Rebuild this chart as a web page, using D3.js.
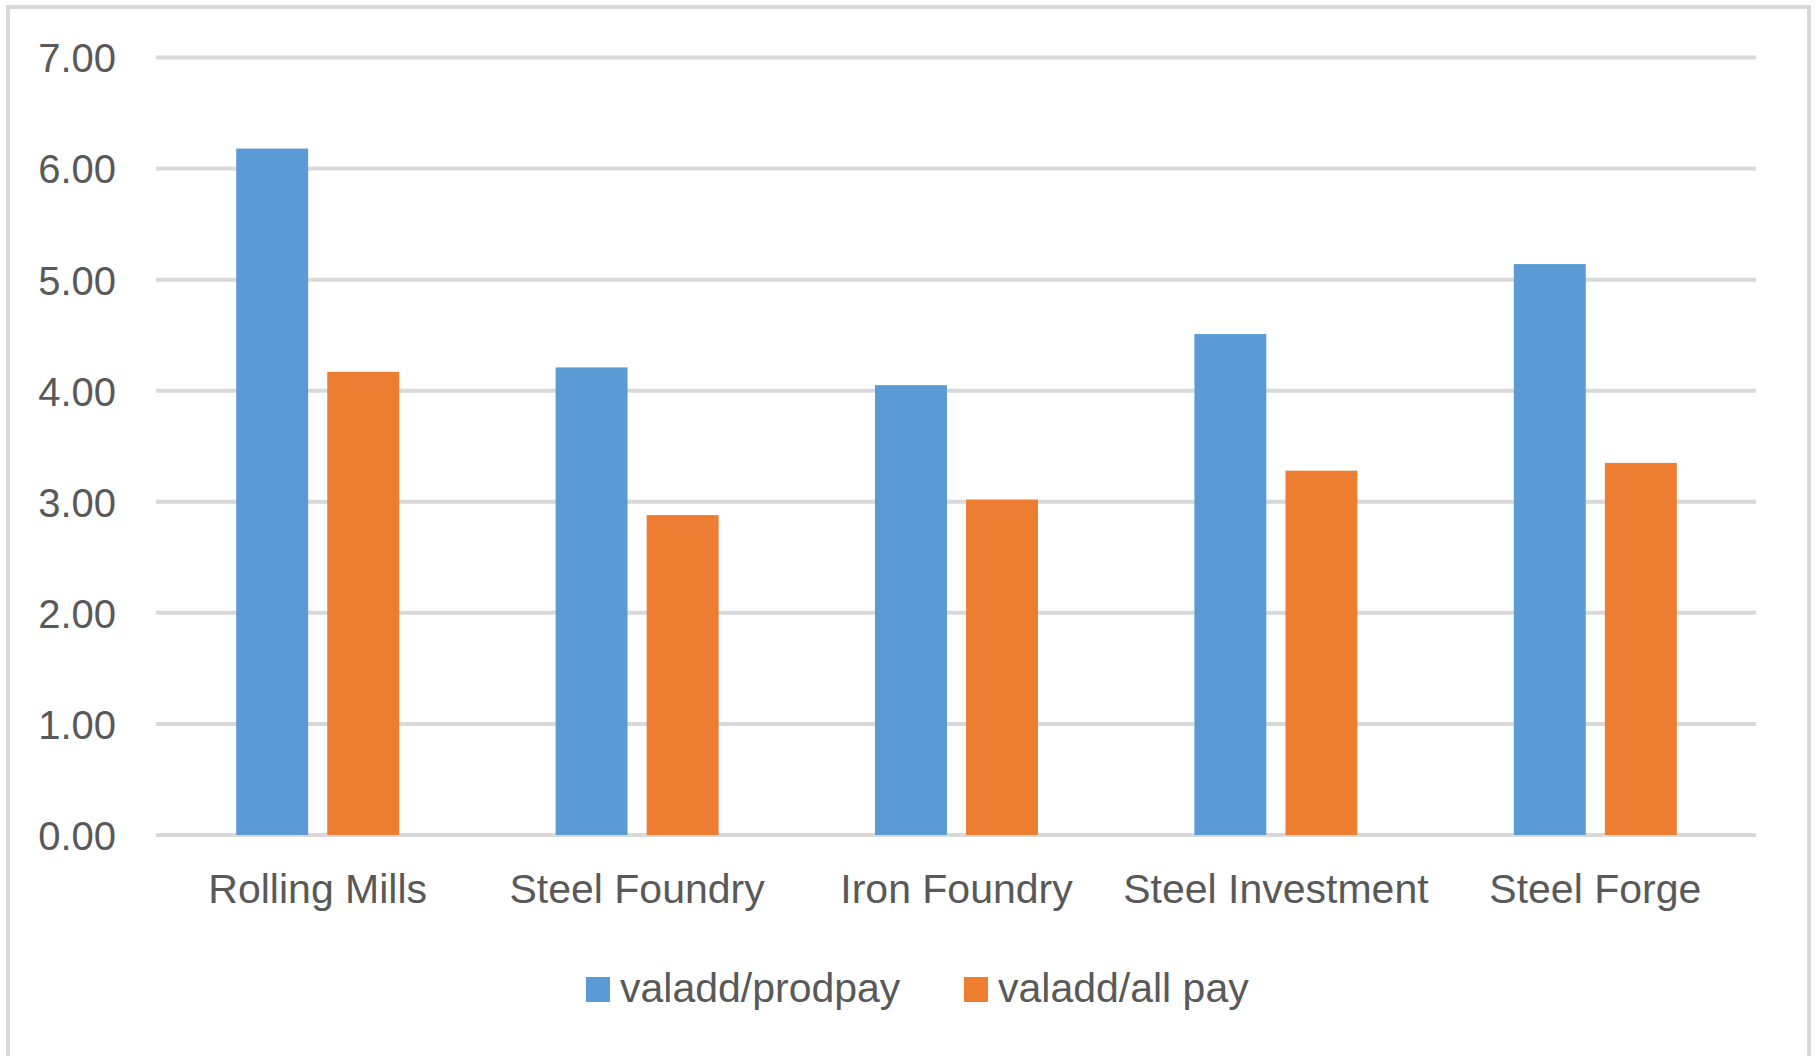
<!DOCTYPE html>
<html>
<head>
<meta charset="utf-8">
<style>
  body { margin: 0; background: #fff; }
  text { font-family: "Liberation Sans", Arial, sans-serif; fill: #595959; }
</style>
<script src="https://cdn.jsdelivr.net/npm/d3@7"></script>
</head>
<body>
<svg id="chart" width="1820" height="1056"></svg>
<script>
// data
var categories = ["Rolling Mills", "Steel Foundry", "Iron Foundry", "Steel Investment", "Steel Forge"];
var seriesNames = ["valadd/prodpay", "valadd/all pay"];
var prodpay = [6.18, 4.21, 4.05, 4.51, 5.14];
var allpay  = [4.17, 2.88, 3.02, 3.28, 3.35];
var yTicks  = [0, 1, 2, 3, 4, 5, 6, 7];
var colors  = ["#5b9bd5", "#ed7d31"];

var svg = d3.select("#chart");

// chart border
svg.append("rect")
  .attr("x", 8).attr("y", 7)
  .attr("width", 1801).attr("height", 1070)
  .attr("fill", "none")
  .attr("stroke", "#d9d9d9")
  .attr("stroke-width", 4);

var plotLeft = 158, plotRight = 1755, plotTop = 57.5, plotBottom = 835;

var y = d3.scaleLinear().domain([0, 7]).range([plotBottom, plotTop]);
var x0 = d3.scaleBand().domain(categories).range([plotLeft, plotRight]).padding(0);
var groupW = 163;
var x1 = d3.scaleBand().domain(seriesNames).range([0, groupW]).paddingInner(0.21).paddingOuter(0);

// gridlines
svg.append("g").selectAll("line")
  .data(yTicks)
  .enter().append("line")
  .attr("x1", 156).attr("x2", 1756)
  .attr("y1", function(d) { return y(d); })
  .attr("y2", function(d) { return y(d); })
  .attr("stroke", "#d9d9d9")
  .attr("stroke-width", 4);

// y axis labels
var yAxis = d3.axisLeft(y).tickValues(yTicks).tickFormat(d3.format(".2f")).tickSize(0).tickPadding(0);
var gy = svg.append("g").attr("transform", "translate(116,0)").call(yAxis);
gy.select(".domain").remove();
gy.selectAll("text")
  .attr("font-size", 40)
  .attr("dy", "0.36em")
  .style("font-family", "Liberation Sans, Arial, sans-serif")
  .attr("fill", "#595959");

// bars
var rows = categories.map(function(c, i) { return { cat: c, vals: [prodpay[i], allpay[i]] }; });
var groups = svg.append("g").selectAll("g")
  .data(rows)
  .enter().append("g")
  .attr("transform", function(d) {
    return "translate(" + (x0(d.cat) + x0.bandwidth() / 2 - groupW / 2) + ",0)";
  });

groups.selectAll("rect")
  .data(function(d) { return d.vals.map(function(v, j) { return { s: seriesNames[j], v: v, j: j }; }); })
  .enter().append("rect")
  .attr("x", function(d) { return x1(d.s); })
  .attr("width", x1.bandwidth())
  .attr("y", function(d) { return y(d.v); })
  .attr("height", function(d) { return plotBottom - y(d.v); })
  .attr("fill", function(d) { return colors[d.j]; });

// x axis labels
var xAxis = d3.axisBottom(x0).tickSize(0).tickPadding(0);
var gx = svg.append("g").attr("transform", "translate(0,903)").call(xAxis);
gx.select(".domain").remove();
gx.selectAll("text")
  .attr("y", 0).attr("dy", 0)
  .attr("font-size", 41)
  .style("font-family", "Liberation Sans, Arial, sans-serif")
  .attr("fill", "#595959");

// legend
var legendX = [586, 964];
var lg = svg.append("g").selectAll("g")
  .data(seriesNames)
  .enter().append("g")
  .attr("transform", function(d, i) { return "translate(" + legendX[i] + ",0)"; });
lg.append("rect")
  .attr("x", 0).attr("y", 977)
  .attr("width", 24).attr("height", 25)
  .attr("fill", function(d, i) { return colors[i]; });
lg.append("text")
  .attr("x", 34).attr("y", 1002)
  .attr("font-size", 41)
  .text(function(d) { return d; });
</script>
</body>
</html>
